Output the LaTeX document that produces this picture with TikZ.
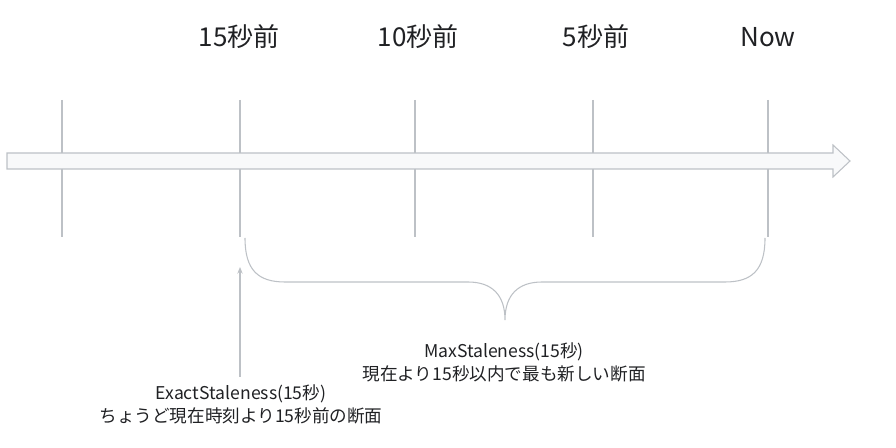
\documentclass[tikz,border=0pt]{standalone}
\usepackage{fontspec}
\setmainfont{Noto Sans CJK JP}
\usetikzlibrary{arrows.meta}
\definecolor{lgray}{HTML}{BDC1C6}
\definecolor{afill}{HTML}{F8F9FA}
\definecolor{txt}{HTML}{202124}
\tikzset{
  tick/.style={draw=lgray, line width=0.8pt},
  toplabel/.style={font=\fontsize{19.5}{22}\selectfont, text=txt, inner sep=0pt},
  desc/.style={font=\fontsize{13.2}{17.2}\selectfont, text=txt, align=center, inner sep=0pt},
}
\begin{document}
\begin{tikzpicture}[x=0.75pt,y=-0.75pt]
\useasboundingbox (0,0) rectangle (896,448);
% timeline arrow
\draw[draw=lgray, fill=afill, line width=0.8pt]
  (7,153) -- (833,153) -- (833,145) -- (850,161) -- (833,177) -- (833,169) -- (7,169) -- cycle;
% ticks
\foreach \x/\n in {62/a,240/b,415/c,593/d,768/e}{
  \coordinate (t\n) at (\x,100);
  \coordinate (u\n) at (\x,153);
  \coordinate (v\n) at (\x,169);
  \coordinate (w\n) at (\x,237);
  \draw[tick] (t\n) -- (u\n);
  \draw[tick] (v\n) -- (w\n);
}
% top labels
\node[toplabel] (l15) at (239,37) {15秒前};
\node[toplabel] (l10) at (418,37) {10秒前};
\node[toplabel] (l5) at (596,37) {5秒前};
\node[toplabel] (lnow) at (768,37) {Now};
% brace
\coordinate (bl) at (245,238);
\coordinate (br) at (765,238);
\coordinate (bm) at (505,320);
\draw[draw=lgray, line width=0.8pt]
  (bl) .. controls (245,270) and (258,282) .. (285,282)
  -- (468,282) .. controls (492,282) and (505,295) .. (bm)
  .. controls (505,295) and (518,282) .. (542,282)
  -- (725,282) .. controls (752,282) and (765,270) .. (br);
% labels
\node[desc] (max) at (504,362) {MaxStaleness(15秒)\\現在より15秒以内で最も新しい断面};
\node[desc] (exact) at (241,404) {ExactStaleness(15秒)\\ちょうど現在時刻より15秒前の断面};
% small arrow
\coordinate (atop) at (240,267);
\draw[draw=lgray, line width=0.8pt, -{Stealth[length=5pt,width=4pt]}] (240,377) -- (atop);
\end{tikzpicture}
\end{document}
